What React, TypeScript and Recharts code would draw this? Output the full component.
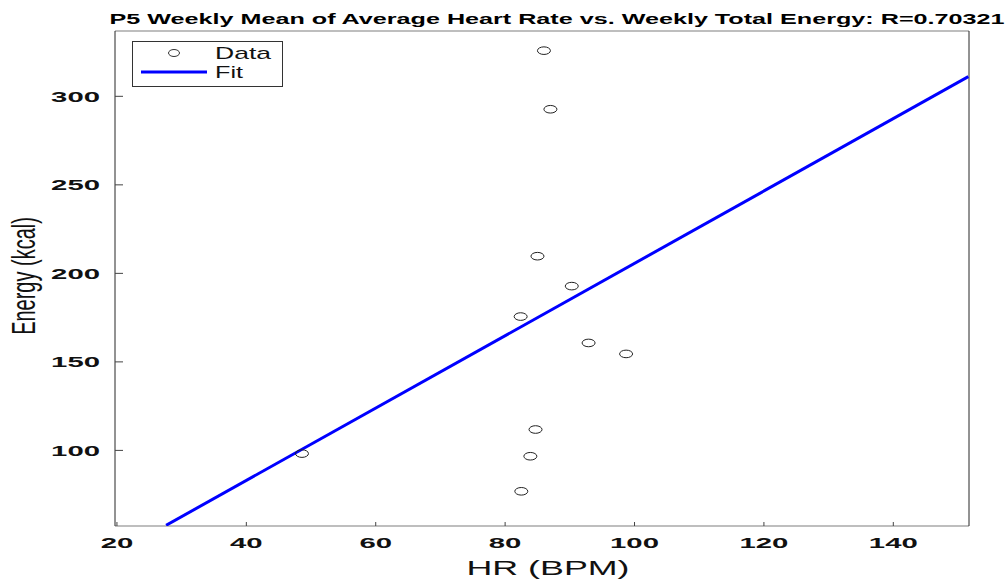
import { ComposedChart, Scatter, XAxis, YAxis, Legend, Label } from 'recharts';

// weekly points
const hrValues = [48.6, 82.5, 83.9, 84.7, 82.4, 85.0, 86.0, 87.0, 90.3, 92.9, 98.7];
const energyValues = [98.2, 76.9, 96.7, 111.8, 175.6, 209.7, 325.8, 292.7, 192.8, 160.7, 154.5];

// least squares fit, ends of the drawn segment
const fitHr = [27.6, 151.6];
const fitEnergy = [57.7, 311.1];

const xTicks = [20, 40, 60, 80, 100, 120, 140];
const yTicks = [100, 150, 200, 250, 300];
const xDomain = [19.7, 151.7];
const yDomain = [57.3, 336.9];

const title = 'P5 Weekly Mean of Average Heart Rate vs. Weekly Total Energy: R=0.70321';

const points = hrValues.map((hr, i) => ({ hr, energy: energyValues[i] }));
const fitPoints = fitHr.map((hr, i) => ({ hr, energy: fitEnergy[i] }));

const FONT = '"Liberation Sans", Arial, sans-serif';
const DIGIT_W = 16.3;

const Ring = (props: any) => {
  const { cx, cy } = props;
  return <ellipse cx={cx} cy={cy} rx={6.5} ry={3.8} fill="none" stroke="#222" strokeWidth={1} />;
};

const NoDot = () => null;

const XTick = (props: any) => {
  const { x, y, payload } = props;
  const s = String(payload.value);
  return (
    <text x={x} y={y + 22} textAnchor="middle" fontFamily={FONT} fontWeight="bold" fontSize={15} fill="#111"
      textLength={s.length * DIGIT_W} lengthAdjust="spacingAndGlyphs">{s}</text>
  );
};

const YTick = (props: any) => {
  const { y, payload } = props;
  const s = String(payload.value);
  return (
    <text x={100} y={y + 5.5} textAnchor="end" fontFamily={FONT} fontWeight="bold" fontSize={15} fill="#111"
      textLength={s.length * DIGIT_W} lengthAdjust="spacingAndGlyphs">{s}</text>
  );
};

const TitleLabel = () => (
  <text x={557} y={24} textAnchor="middle" fontFamily={FONT} fontWeight="bold" fontSize={15} fill="#000"
    textLength={895} lengthAdjust="spacingAndGlyphs">{title}</text>
);

const XLabel = () => (
  <text x={548} y={575} textAnchor="middle" fontFamily={FONT} fontSize={21} fill="#111"
    textLength={163} lengthAdjust="spacingAndGlyphs">HR (BPM)</text>
);

// the source image is stretched sideways, so the rotated label gets thicker glyphs
const YLabel = () => (
  <text x={0} y={0} transform="translate(35, 276) scale(1.7, 1) rotate(-90)" textAnchor="middle" fontFamily={FONT} fontSize={20} fill="#111">
    Energy (kcal)
  </text>
);

const LegendBox = () => (
  <svg width={151} height={46} style={{ display: 'block' }}>
    <rect x={0.5} y={0.5} width={150} height={45} fill="#fff" stroke="#333" strokeWidth={1} />
    <ellipse cx={42} cy={12} rx={5.5} ry={3.5} fill="none" stroke="#333" strokeWidth={1} />
    <text x={83} y={18} fontFamily={FONT} fontSize={17} fill="#111" textLength={56} lengthAdjust="spacingAndGlyphs">Data</text>
    <line x1={9} y1={31} x2={75} y2={31} stroke="#0000ff" strokeWidth={3} />
    <text x={83} y={37} fontFamily={FONT} fontSize={17} fill="#111" textLength={28} lengthAdjust="spacingAndGlyphs">Fit</text>
  </svg>
);

export default function App() {
  return (
    <div style={{ position: 'absolute', left: 0, top: 0, background: '#fff' }}>
      <ComposedChart width={1008} height={582} margin={{ top: 30, right: 38, left: 55, bottom: 16 }}>
        <XAxis xAxisId="b" type="number" dataKey="hr" domain={xDomain} ticks={xTicks} allowDataOverflow
          height={40} tickSize={-4} tickMargin={4} tick={<XTick />}
          axisLine={{ stroke: '#a8a8a8', strokeWidth: 1.5 }} tickLine={{ stroke: '#444' }}>
          <Label content={<XLabel />} />
        </XAxis>
        <XAxis xAxisId="t" orientation="top" type="number" dataKey="hr" domain={xDomain} ticks={xTicks} allowDataOverflow
          height={1} tickSize={-4} tick={false}
          axisLine={{ stroke: '#a8a8a8', strokeWidth: 1.5 }} tickLine={{ stroke: '#444' }}>
          <Label content={<TitleLabel />} />
        </XAxis>
        <YAxis yAxisId="l" type="number" dataKey="energy" domain={yDomain} ticks={yTicks} allowDataOverflow
          width={60} tickSize={-8} tickMargin={8} tick={<YTick />}
          axisLine={{ stroke: '#262626' }} tickLine={{ stroke: '#444' }}>
          <Label content={<YLabel />} />
        </YAxis>
        <YAxis yAxisId="r" orientation="right" type="number" dataKey="energy" domain={yDomain} ticks={yTicks} allowDataOverflow
          width={1} tickSize={-7} tick={false}
          axisLine={{ stroke: '#262626' }} tickLine={{ stroke: '#444' }} />
        <Legend layout="horizontal" verticalAlign="middle" align="center" content={<LegendBox />}
          wrapperStyle={{ position: 'absolute', left: 132, top: 41, width: 151, height: 46 }} />
        <Scatter name="Fit" data={fitPoints} xAxisId="b" yAxisId="l" shape={<NoDot />}
          line={{ stroke: '#0000ff', strokeWidth: 3 }} isAnimationActive={false} />
        <Scatter name="Data" data={points} xAxisId="b" yAxisId="l" shape={<Ring />} isAnimationActive={false} />
      </ComposedChart>
    </div>
  );
}
